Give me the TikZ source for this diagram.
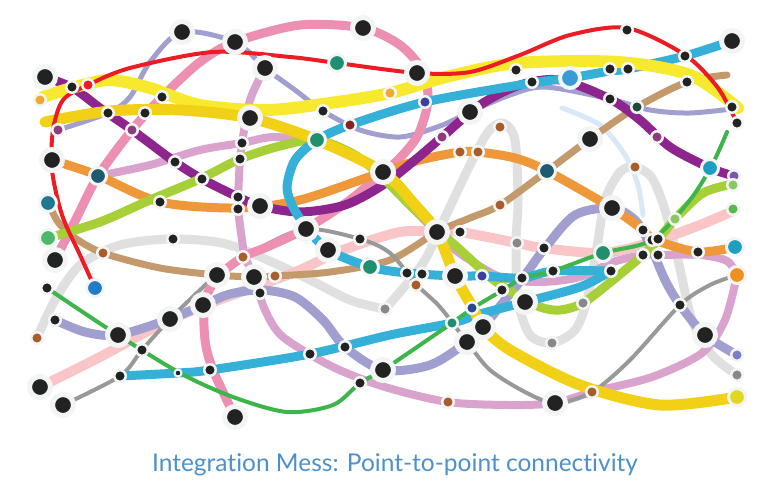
\documentclass[tikz,border=0pt]{standalone}
\usepackage{fontspec}
\usepackage{xcolor}
\usepackage{tikz}
\newfontfamily\titlefont[Ligatures=NoCommon]{Lato}
\definecolor{lnred}{RGB}{237,28,36}
\definecolor{lnyellow}{RGB}{247,234,46}
\definecolor{lngold}{RGB}{242,208,22}
\definecolor{lnpurple}{RGB}{142,36,142}
\definecolor{lnlavender}{RGB}{160,159,208}
\definecolor{lnpink}{RGB}{236,143,178}
\definecolor{lnmauve}{RGB}{217,163,205}
\definecolor{lnorange}{RGB}{239,152,58}
\definecolor{lnlime}{RGB}{167,207,56}
\definecolor{lncyan}{RGB}{53,176,216}
\definecolor{lngreen}{RGB}{60,181,74}
\definecolor{lntan}{RGB}{196,154,108}
\definecolor{lnlgrey}{RGB}{224,224,224}
\definecolor{lndgrey}{RGB}{153,153,153}
\definecolor{lnlpink}{RGB}{249,197,199}
\definecolor{lnlblue}{RGB}{216,232,246}
\definecolor{halo}{RGB}{243,245,245}
\definecolor{dotblack}{RGB}{34,34,34}
\definecolor{dtgreen}{RGB}{31,143,111}
\definecolor{dtteal}{RGB}{31,90,112}
\definecolor{dtsteel}{RGB}{30,120,144}
\definecolor{dtaqua}{RGB}{30,158,192}
\definecolor{dtsky}{RGB}{58,154,216}
\definecolor{dtblue}{RGB}{30,126,200}
\definecolor{dtbrown}{RGB}{168,93,42}
\definecolor{dtdred}{RGB}{139,32,32}
\definecolor{dtnavy}{RGB}{61,63,160}
\definecolor{dtnavyb}{RGB}{42,74,144}
\definecolor{dtplum}{RGB}{142,60,128}
\definecolor{dtviolet}{RGB}{122,90,168}
\definecolor{dtperi}{RGB}{122,128,200}
\definecolor{dtlgreen}{RGB}{140,200,96}
\definecolor{dtmgreen}{RGB}{90,184,80}
\definecolor{dtlgreenb}{RGB}{76,184,106}
\definecolor{dtorange}{RGB}{240,144,30}
\definecolor{dtamber}{RGB}{240,168,48}
\definecolor{dtyellow}{RGB}{224,216,32}
\definecolor{dtgrey}{RGB}{136,136,136}
\definecolor{dtforest}{RGB}{31,74,58}
\definecolor{titleblue}{RGB}{78,144,200}
\tikzset{
  wire/.style={line cap=round, line join=round},
  bigdot/.style={circle, fill=dotblack, draw=halo, line width=5pt,
    minimum size=21pt, inner sep=0pt},
  smalldot/.style={circle, fill=dotblack, draw=halo, line width=2.5pt,
    minimum size=11.5pt, inner sep=0pt},
  tinydot/.style={circle, fill=dotblack, draw=halo, line width=2pt,
    minimum size=7pt, inner sep=0pt},
  colordot/.style={circle, fill=#1, draw=halo, line width=3pt,
    minimum size=17pt, inner sep=0pt},
  colorpip/.style={circle, fill=#1, draw=halo, line width=2.5pt,
    minimum size=11.5pt, inner sep=0pt}
}
\begin{document}
\begin{tikzpicture}[x=1pt, y=-1pt]
  \useasboundingbox (0,0) rectangle (775,500);
  % Grey lines
  \draw[wire, lnlgrey, line width=9pt] plot[smooth] coordinates {(37,338) (55,300) (80,265) (120,245) (173,239) (230,245) (300,275) (350,300) (385,309)};
  \draw[wire, lnlgrey, line width=9pt] plot[smooth] coordinates {(385,309) (423,263) (447,213) (470,165) (488,132) (503,123) (515,140) (518,200) (516,243) (518,300) (530,335) (552,343) (575,330) (587,300) (597,247) (605,200) (620,172) (635,167) (652,178) (665,210) (678,260) (692,320) (712,355) (737,375)};
  \draw[wire, lnlblue, line width=5pt] plot[smooth] coordinates {(562,108) (600,125) (625,155) (638,185) (643,215)};
  % Light pink
  \draw[wire, lnlpink, line width=10pt] plot[smooth] coordinates {(40,387) (100,357) (150,330) (200,307) (260,285) (300,270) (343,250) (400,232) (437,232) (460,232) (517,243) (543,248) (603,253) (652,242) (700,225) (735,210)};
  % Mauve
  \draw[wire, lnmauve, line width=8pt] plot[smooth] coordinates {(265,68) (250,100) (242,143) (240,159) (238,197) (238,209) (242,240) (245,257) (254,277) (265,310) (283,337) (333,367) (385,387) (448,402) (510,405) (555,403) (592,392) (652,377) (702,353) (725,320) (737,275)};
  \draw[wire, lnmauve, line width=8pt] plot[smooth] coordinates {(98,176) (150,165) (200,150) (242,143) (277,137) (333,147) (367,163) (395,190) (447,243) (473,262) (503,278) (540,282) (580,277) (613,262) (643,255) (658,255) (700,255) (727,261) (737,275)};
  % Tan
  \draw[wire, lntan, line width=7pt] plot[smooth] coordinates {(48,202) (58,222) (75,238) (103,253) (160,268) (217,275) (255,277) (275,276) (330,272) (390,260) (437,232) (470,218) (500,205) (547,171) (590,139) (637,107) (687,82) (727,75)};
  % Dark grey
  \draw[wire, lndgrey, line width=4pt] plot[smooth] coordinates {(63,405) (120,376) (142,350) (170,319) (200,290) (217,275) (260,248) (306,229) (360,239) (390,253) (417,285) (440,307) (467,342) (490,370) (525,392) (555,403) (592,392) (630,360) (680,305) (710,285) (737,275)};
  % Lavender
  \draw[wire, lnlavender, line width=5pt] plot[smooth] coordinates {(58,130) (108,113) (130,97) (150,62) (182,32) (235,42) (265,68) (295,90) (323,111) (360,130) (400,137) (440,126) (470,112) (510,95) (545,87) (610,99) (650,110) (690,113) (740,108)};
  \draw[wire, lnlavender, line width=9pt] plot[smooth] coordinates {(55,320) (85,332) (118,335) (170,319) (203,305) (230,294) (262,290) (295,297) (323,320) (345,347) (383,370) (430,365) (467,342) (483,327) (505,300) (525,275) (545,248) (575,215) (612,208) (635,220) (650,245) (665,280) (680,305) (705,335) (737,355)};
  % Pink
  \draw[wire, lnpink, line width=9pt] plot[smooth] coordinates {(55,260) (77,217) (98,176) (132,130) (162,97) (200,62) (235,42) (300,25) (363,28) (400,45) (422,70) (428,100) (418,135) (398,160) (383,172) (350,200) (307,228) (267,247) (243,257) (220,275) (205,300) (205,340) (213,370) (235,417)};
  % Orange
  \draw[wire, lnorange, line width=9pt] plot[smooth] coordinates {(52,160) (97,175) (160,202) (238,208) (300,200) (383,172) (420,160) (460,152) (478,152) (515,158) (547,171) (612,208) (643,230) (655,240) (698,252) (735,247)};
  % Purple
  \draw[wire, lnpurple, line width=9pt] plot[smooth] coordinates {(45,77) (73,88) (100,108) (132,130) (175,162) (202,179) (238,197) (260,206) (300,212) (345,205) (383,185) (415,160) (442,137) (480,105) (520,85) (560,80) (610,99) (640,120) (670,147) (710,168) (734,176)};
  % Lime
  \draw[wire, lnlime, line width=9pt] plot[smooth] coordinates {(48,238) (100,222) (150,200) (200,179) (240,159) (280,146) (317,140) (355,155) (385,180) (415,210) (457,247) (490,277) (513,293) (540,307) (560,310) (583,303) (613,280) (643,255) (658,240) (675,219) (703,193) (733,184)};
  % Cyan
  \draw[wire, lncyan, line width=9pt] plot[smooth] coordinates {(120,376) (178,373) (210,370) (310,354) (390,335) (452,323) (480,314) (525,302) (580,287) (611,271)};
  \draw[wire, lncyan, line width=9pt] plot[smooth] coordinates {(732,41) (685,56) (628,69) (610,71) (570,78) (532,83) (425,102) (350,125) (317,140) (295,160) (287,187) (293,207) (307,228) (328,250) (370,267) (407,273) (455,276) (482,276) (522,278) (553,271) (611,271)};
  % Yellows
  \draw[wire, lnyellow, line width=12pt] plot[smooth] coordinates {(43,97) (75,87) (110,80) (150,88) (200,105) (267,110) (330,103) (390,93) (450,76) (518,63) (618,62) (690,75) (738,108)};
  \draw[wire, lngold, line width=11pt] plot[smooth] coordinates {(45,122) (110,111) (180,110) (250,118) (317,140) (383,172) (415,205) (437,232) (455,276) (473,308) (483,327) (510,350) (580,385) (660,405) (737,397)};
  % Green and red
  \draw[wire, lngreen, line width=4pt] plot[smooth] coordinates {(47,288) (110,330) (180,373) (233,397) (287,412) (333,405) (360,383) (383,370) (420,345) (452,323) (473,308) (503,290) (523,278) (553,271) (603,253) (652,240) (690,200) (712,165) (727,132)};
  \draw[wire, lnred, line width=4pt] plot[smooth] coordinates {(95,288) (80,255) (62,215) (52,170) (53,130) (63,100) (88,85) (130,68) (213,52) (290,57) (337,63) (417,73) (470,72) (520,55) (570,35) (627,28) (685,55) (718,88) (737,123)};
  % Hubs
  \foreach \px/\py [count=\i] in {45/77, 182/32, 235/42, 265/68, 363/28, 250/118, 52/160, 260/206, 383/172, 417/73, 470/112, 732/41, 590/139, 612/208, 55/260, 217/275, 254/277, 306/229, 328/250, 203/305, 170/319, 118/335, 40/387, 63/405, 383/370, 235/417, 437/232, 455/276, 525/302, 483/327, 467/342, 705/335, 555/403}
    \node[bigdot] (hub\i) at (\px,\py) {};
  % Stops
  \foreach \px/\py [count=\i] in {72/87, 108/113, 145/113, 162/97, 323/111, 242/143, 240/159, 175/162, 202/179, 160/202, 238/197, 238/209, 516/70, 532/82, 610/69, 628/69, 627/30, 685/56, 687/82, 610/99, 732/107, 737/123, 173/239, 47/288, 360/239, 260/293, 55/320, 142/350, 120/376, 210/370, 310/354, 345/347, 360/383, 460/232, 407/273, 422/274, 522/278, 544/248, 643/230, 652/240, 658/239, 643/255, 658/255, 698/252, 553/271, 611/271, 502/290, 680/305}
    \node[smalldot] (stop\i) at (\px,\py) {};
  \node[tinydot] (pin) at (178,373) {};
  % Coloured stations
  \foreach \px/\py/\col [count=\i] in {337/63/dtgreen, 317/140/dtgreen, 98/176/dtteal, 48/203/dtsteel, 547/171/dtteal, 710/168/dtaqua, 48/238/dtlgreenb, 95/288/dtblue, 370/267/dtgreen, 603/253/dtgreen, 735/247/dtaqua, 737/275/dtorange, 737/397/dtyellow}
    \node[colordot=\col] (station\i) at (\px,\py) {};
  \node[colordot=dtsky, minimum size=20pt, line width=4pt] (skyhub) at (570,78) {};
  \foreach \px/\py/\col [count=\i] in {88/85/lnred, 40/100/dtamber, 58/130/dtplum, 132/130/dtplum, 350/125/dtdred, 390/93/dtamber, 425/102/dtnavy, 442/137/dtplum, 637/107/dtforest, 657/137/dtplum, 500/127/dtbrown, 460/152/dtbrown, 478/152/dtbrown, 635/167/dtbrown, 734/176/dtviolet, 733/185/dtlgreen, 500/205/dtbrown, 733/209/dtmgreen, 675/219/dtlgreen, 103/253/dtbrown, 243/257/dtbrown, 275/276/dtbrown, 37/338/dtbrown, 385/309/dtgrey, 416/285/dtbrown, 482/276/dtnavy, 517/243/dtgrey, 583/303/dtgrey, 472/308/dtnavyb, 452/323/dtgreen, 737/355/dtperi, 552/343/dtgrey, 737/375/dtgrey, 448/402/dtbrown, 592/392/dtbrown}
    \node[colorpip=\col] (pip\i) at (\px,\py) {};
  % Caption
  \node[font=\titlefont\fontsize{24.5}{28}\selectfont, text=titleblue] (caption) at (395,465) {Integration Mess: Point-to-point connectivity};
\end{tikzpicture}
\end{document}
